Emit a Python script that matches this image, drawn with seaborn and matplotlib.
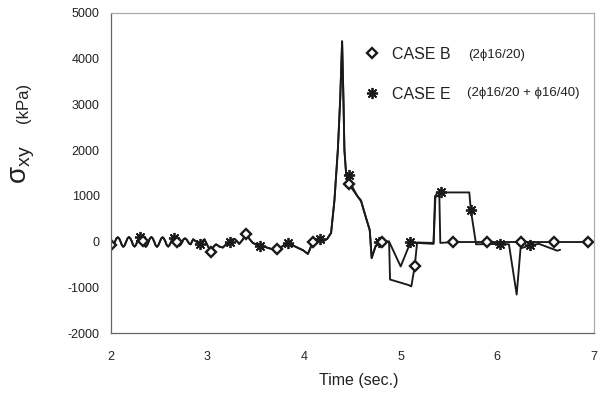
import numpy as np
import matplotlib
matplotlib.use("Agg")
import matplotlib.pyplot as plt
from matplotlib.lines import Line2D
import seaborn as sns

# ---------------- data ----------------
t_early = [2.000, 2.015, 2.029, 2.044, 2.058, 2.073, 2.087, 2.102, 2.116, 2.131,
           2.145, 2.160, 2.174, 2.189, 2.203, 2.218, 2.232, 2.247, 2.261, 2.276,
           2.290, 2.305, 2.319, 2.334, 2.348, 2.363, 2.377, 2.392, 2.406, 2.421,
           2.435, 2.450, 2.464, 2.479, 2.493, 2.508, 2.522, 2.537, 2.551, 2.566,
           2.580, 2.595, 2.609, 2.624, 2.638, 2.653, 2.667, 2.682, 2.696, 2.711,
           2.725, 2.740, 2.754, 2.769, 2.783, 2.798, 2.812, 2.827,
           2.853, 2.885, 2.920, 2.945, 2.970, 3.005, 3.040, 3.065, 3.090, 3.125,
           3.160, 3.195, 3.230, 3.255, 3.280, 3.305, 3.330, 3.365, 3.400, 3.435,
           3.470, 3.505, 3.540, 3.600, 3.660, 3.720, 3.780, 3.830, 3.880, 3.940,
           3.990, 4.040, 4.090, 4.130, 4.170, 4.210, 4.240, 4.280, 4.315, 4.350,
           4.374, 4.394, 4.408, 4.418, 4.435]
v_early = [-80, -110, -78, -5, 65, 95, 68, 0, -80, -115,
           -80, -5, 70, 100, 70, 5, -78, -110, -75, 0,
           75, 105, 75, 10, -80, -115, -80, -5, 70, 100,
           70, 0, -80, -115, -80, -5, 65, 95, 65, 0,
           -78, -110, -75, -10, 60, 85, 60, 0, -62, -90,
           -62, 0, 50, 70, 50, 0, -45, -60,
           50, 0, -50, 0, 50, -100, -230, -110, -60, -110,
           -130, -60, 0, 40, 60, 10, -50, 40, 160, 60,
           -30, -60, -90, -120, -160, -170, -100, -30, -80, -140,
           -190, -270, -20, 40, 60, 20, 60, 190, 910, 2010,
           3100, 4380, 3100, 2000, 1500]

t_b_late = [4.462, 4.50, 4.55, 4.59, 4.63, 4.68, 4.70, 4.74, 4.81, 4.88, 4.89,
            5.08, 5.11, 5.145, 5.17, 5.34, 5.355, 5.40, 5.41, 5.54, 5.89, 6.24,
            6.59, 6.94, 7.00]
v_b_late = [1250, 1150, 1000, 880, 600, 250, -360, -100, 0, 0, -830,
            -950, -980, -545, -20, -30, 990, 990, -30, -10, -10, -10,
            -10, -10, -10]

t_e_late = [4.462, 4.50, 4.55, 4.59, 4.63, 4.68, 4.70, 4.74, 4.78, 4.88, 5.00,
            5.10, 5.34, 5.36, 5.38, 5.42, 5.71, 5.725, 5.78, 6.03, 6.12, 6.20,
            6.24, 6.34, 6.43, 6.62, 6.65]
v_e_late = [1450, 1200, 1000, 900, 600, 250, -360, -100, 0, 0, -545,
            -20, -50, 1000, 1070, 1075, 1075, 700, -60, -50, -60, -1160,
            -150, -80, -50, -200, -180]

marks_b = [2.000, 2.334, 2.682, 3.040, 3.400, 3.720, 4.090, 4.462, 4.81,
           5.145, 5.54, 5.89, 6.24, 6.59, 6.94]
marks_e = [2.305, 2.653, 2.920, 3.230, 3.540, 3.830, 4.170, 4.462, 4.78,
           5.10, 5.42, 5.725, 6.03, 6.34]

labels = ["CASE B", "CASE E"]
label_notes = ["(2\u03d516/20)", "(2\u03d516/20 + \u03d516/40)"]
x_ticks = [2, 3, 4, 5, 6, 7]
y_ticks = [-2000, -1000, 0, 1000, 2000, 3000, 4000, 5000]

# ---------------- figure ----------------
sns.set_theme(style="white")
plt.rcParams["font.family"] = ["Liberation Sans", "DejaVu Sans"]
plt.rcParams["mathtext.fontset"] = "custom"
plt.rcParams["mathtext.rm"] = "Liberation Sans"
plt.rcParams["mathtext.it"] = "Liberation Sans"

fig = plt.figure(figsize=(6.03, 3.97), dpi=100)
W, H = 603, 397
L, R, T, B = 110.7, 594, 13, 333
ax = fig.add_axes([L / W, 1 - B / H, (R - L) / W, (B - T) / H])

t_b = np.array(t_early + t_b_late)
v_b = np.array(v_early + v_b_late)
t_e = np.array(t_early + t_e_late)
v_e = np.array(v_early + v_e_late)

idx_b = list(np.where(np.isin(t_b, marks_b))[0])
idx_e = list(np.where(np.isin(t_e, marks_e))[0])

line_col = "#1a1a1a"
sns.lineplot(x=t_e, y=v_e, ax=ax, sort=False, estimator=None, color=line_col,
             lw=1.35, marker=(8, 2, 0), markevery=idx_e, markersize=8,
             markeredgewidth=1.3, markeredgecolor=line_col, legend=False)
sns.lineplot(x=t_b, y=v_b, ax=ax, sort=False, estimator=None, color=line_col,
             lw=1.35, marker="D", markevery=idx_b, markersize=5.5,
             markeredgewidth=1.7, markerfacecolor="white",
             markeredgecolor=line_col, legend=False)

ax.set_xlim(2, 7)
ax.set_ylim(-2000, 5000)
ax.set_xticks(x_ticks)
ax.set_yticks(y_ticks)
ax.set_xticklabels([str(v) for v in x_ticks])
ax.set_yticklabels([str(v) for v in y_ticks])
ax.tick_params(axis="both", direction="out", width=0.8,
               colors="#555555", labelcolor="#222222", labelsize=9)
ax.tick_params(axis="y", length=5, pad=3)
ax.tick_params(axis="x", length=4, pad=9)
for side in ["left", "bottom"]:
    ax.spines[side].set_color("#666666")
    ax.spines[side].set_linewidth(0.9)
for side in ["top", "right"]:
    ax.spines[side].set_color("#aaaaaa")
    ax.spines[side].set_linewidth(0.9)

ax.set_xlabel("Time (sec.)", fontsize=11.5, color="#222222")
ax.xaxis.set_label_coords((359 - L) / (R - L), -(381 - B) / (B - T),
                          transform=ax.transAxes)
ax.xaxis.label.set_va("center")
ax.set_ylabel("")

# y label: large sigma with subscript + (kPa)
fig.text(23 / W, 1 - 165 / H, r"$\mathregular{\sigma_{xy}}$", rotation=90,
         ha="center", va="center", fontsize=20, color="#222222")
fig.text(23 / W, 1 - 103 / H, "(kPa)", rotation=90, ha="center",
         va="center", fontsize=12, color="#222222")

# legend
handles = [
    Line2D([], [], ls="none", marker="D", markersize=5.5, markeredgewidth=1.7,
           markerfacecolor="white", markeredgecolor=line_col),
    Line2D([], [], ls="none", marker=(8, 2, 0), markersize=8,
           markeredgewidth=1.3, markeredgecolor=line_col),
]
leg = ax.legend(handles, labels, loc="upper left",
                bbox_to_anchor=((364 - L) / (R - L), (B - 47) / (B - T)),
                frameon=False, fontsize=11.5, handlelength=1.0,
                handletextpad=0.75, labelspacing=1.55, borderpad=0,
                borderaxespad=0)
for txt in leg.get_texts():
    txt.set_color("#222222")

fig.text(468 / W, 1 - 55 / H, label_notes[0], ha="left", va="center",
         fontsize=9.5, color="#222222")
fig.text(467 / W, 1 - 93 / H, label_notes[1], ha="left", va="center",
         fontsize=9.5, color="#222222")

fig.savefig("out.png", dpi=100, facecolor="white")
